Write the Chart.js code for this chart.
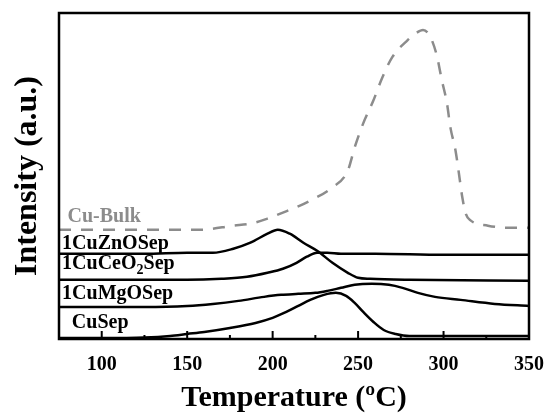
<!DOCTYPE html>
<html>
<head>
<meta charset="utf-8">
<script src="https://cdn.jsdelivr.net/npm/chart.js@4.4.0/dist/chart.umd.min.js"></script>
<style>
  html, body { margin: 0; padding: 0; background: #fff; }
</style>
</head>
<body>
<canvas id="tprChart" width="545" height="416"></canvas>
<script>
// H2-TPR profiles, intensity (arbitrary units, stacked)
const tickValues = [100, 150, 200, 250, 300, 350];

const bulkT = [75, 125, 158, 177, 187, 197, 206, 216, 222, 234, 244, 248, 253, 259, 264, 270, 279, 284, 288, 292, 296, 299, 302, 304, 307, 309, 311, 313, 316, 326, 337, 350];
const bulkI = [109, 109, 109, 113, 115, 120, 126, 133, 138, 150, 168, 191, 215, 238, 260, 281, 298, 305, 308, 302, 283, 258, 235, 211, 188, 165, 141, 125, 118, 113, 111, 111];

const znoT = [75, 125, 150, 165, 177, 187, 197, 203, 210, 218, 226, 235, 244, 250, 257, 280, 350];
const znoI = [85, 85, 86, 86, 90, 96, 105, 109, 105, 96, 88, 76, 66, 61, 60, 59, 58];

const ceoT = [75, 125, 150, 170, 185, 197, 206, 214, 220, 226, 232, 240, 260, 300, 350];
const ceoI = [59, 59, 59, 60, 62, 66, 70, 76, 82, 86, 86, 85, 85, 84, 84];

const mgoT = [75, 100, 125, 150, 165, 180, 195, 205, 215, 225, 232, 240, 248, 258, 268, 276, 285, 295, 310, 330, 350];
const mgoI = [32, 32, 32, 33, 35, 38, 42, 44, 45, 46, 48, 51, 54, 55, 54, 51, 46, 42, 39, 35, 33];

const sepT = [75, 100, 125, 140, 150, 160, 175, 190, 200, 208, 215, 222, 230, 237, 243, 248, 253, 259, 265, 272, 280, 300, 350];
const sepI = [1, 1, 1.5, 3, 5, 7, 11, 16, 21, 27, 33, 39, 44, 46, 43, 36, 27, 17, 9, 5, 3, 3, 3];

const FONT = "'Liberation Serif', 'Times New Roman', serif";
const GRAY = '#8c8c8c';

function pts(ts, vs) {
    return ts.map((t, i) => ({ x: t, y: vs[i] }));
}

function line(label, ts, vs, color, dash) {
    return {
        label: label,
        data: pts(ts, vs),
        borderColor: color,
        borderWidth: 2.5,
        borderDash: dash || [],
        pointRadius: 0,
        fill: false,
        cubicInterpolationMode: 'monotone'
    };
}

// curve names written inside the plot
const curveLabels = [
    { text: 'Cu-Bulk', t: 80, v: 122, color: GRAY },
    { text: '1CuZnOSep', t: 76.8, v: 95, color: '#000' },
    { text: ['1CuCeO', '2', 'Sep'], t: 76.8, v: 75, color: '#000' },
    { text: '1CuMgOSep', t: 76.8, v: 45, color: '#000' },
    { text: 'CuSep', t: 82.5, v: 16, color: '#000' }
];

const framePlugin = {
    id: 'frame',
    afterDatasetsDraw(chart) {
        const ctx = chart.ctx;
        const a = chart.chartArea;
        const xs = chart.scales.x;
        ctx.save();
        ctx.strokeStyle = '#000';
        ctx.lineWidth = 2.5;
        ctx.strokeRect(a.left, a.top, a.right - a.left, a.bottom - a.top);
        // inward ticks on the bottom axis
        ctx.lineWidth = 2;
        for (let t = xs.min + 25; t < xs.max; t += 25) {
            const px = xs.getPixelForValue(t);
            const len = t % 50 === 0 ? 8 : 4;
            ctx.beginPath();
            ctx.moveTo(px, a.bottom);
            ctx.lineTo(px, a.bottom - len);
            ctx.stroke();
        }
        ctx.restore();
    }
};

const labelPlugin = {
    id: 'curveLabels',
    afterDatasetsDraw(chart) {
        const ctx = chart.ctx;
        const xs = chart.scales.x;
        const ys = chart.scales.y;
        ctx.save();
        ctx.textBaseline = 'middle';
        ctx.textAlign = 'left';
        curveLabels.forEach(l => {
            let px = xs.getPixelForValue(l.t);
            const py = ys.getPixelForValue(l.v);
            ctx.fillStyle = l.color;
            if (Array.isArray(l.text)) {
                ctx.font = 'bold 20px ' + FONT;
                ctx.fillText(l.text[0], px, py);
                px += ctx.measureText(l.text[0]).width;
                ctx.font = 'bold 14px ' + FONT;
                ctx.fillText(l.text[1], px, py + 7);
                px += ctx.measureText(l.text[1]).width;
                ctx.font = 'bold 20px ' + FONT;
                ctx.fillText(l.text[2], px, py);
            } else {
                ctx.font = 'bold 20px ' + FONT;
                ctx.fillText(l.text, px, py);
            }
        });
        ctx.restore();
    }
};

const ctx = document.getElementById('tprChart').getContext('2d');
new Chart(ctx, {
    type: 'line',
    data: {
        datasets: [
            line('Cu-Bulk', bulkT, bulkI, GRAY, [12, 10]),
            line('1CuZnOSep', znoT, znoI, '#000'),
            line('1CuCeO2Sep', ceoT, ceoI, '#000'),
            line('1CuMgOSep', mgoT, mgoI, '#000'),
            line('CuSep', sepT, sepI, '#000')
        ]
    },
    options: {
        responsive: false,
        devicePixelRatio: 1,
        animation: false,
        layout: { padding: { top: 13, right: 16, left: 0, bottom: 0 } },
        plugins: {
            legend: { display: false },
            tooltip: { enabled: false }
        },
        scales: {
            x: {
                type: 'linear',
                min: 75,
                max: 350,
                afterBuildTicks: s => { s.ticks = tickValues.map(v => ({ value: v })); },
                afterFit: s => { s.height = 77; s.paddingLeft = 0; s.paddingRight = 0; },
                grid: { display: false, drawTicks: false },
                border: { display: false },
                ticks: {
                    color: '#000',
                    padding: 14,
                    maxRotation: 0,
                    font: { family: FONT, size: 20, weight: 'bold' }
                },
                title: {
                    display: true,
                    text: 'Temperature (ºC)',
                    color: '#000',
                    padding: { top: 0, bottom: 0 },
                    font: { family: FONT, size: 30, weight: 'bold' }
                }
            },
            y: {
                type: 'linear',
                min: 0,
                max: 325,
                afterFit: s => { s.width = 59; s.paddingTop = 0; s.paddingBottom = 0; },
                grid: { display: false, drawTicks: false },
                border: { display: false },
                ticks: { display: false },
                title: {
                    display: true,
                    text: 'Intensity (a.u.)',
                    color: '#000',
                    padding: { top: 9, bottom: 0 },
                    font: { family: FONT, size: 32, weight: 'bold' }
                }
            }
        }
    },
    plugins: [framePlugin, labelPlugin]
});
</script>
</body>
</html>
